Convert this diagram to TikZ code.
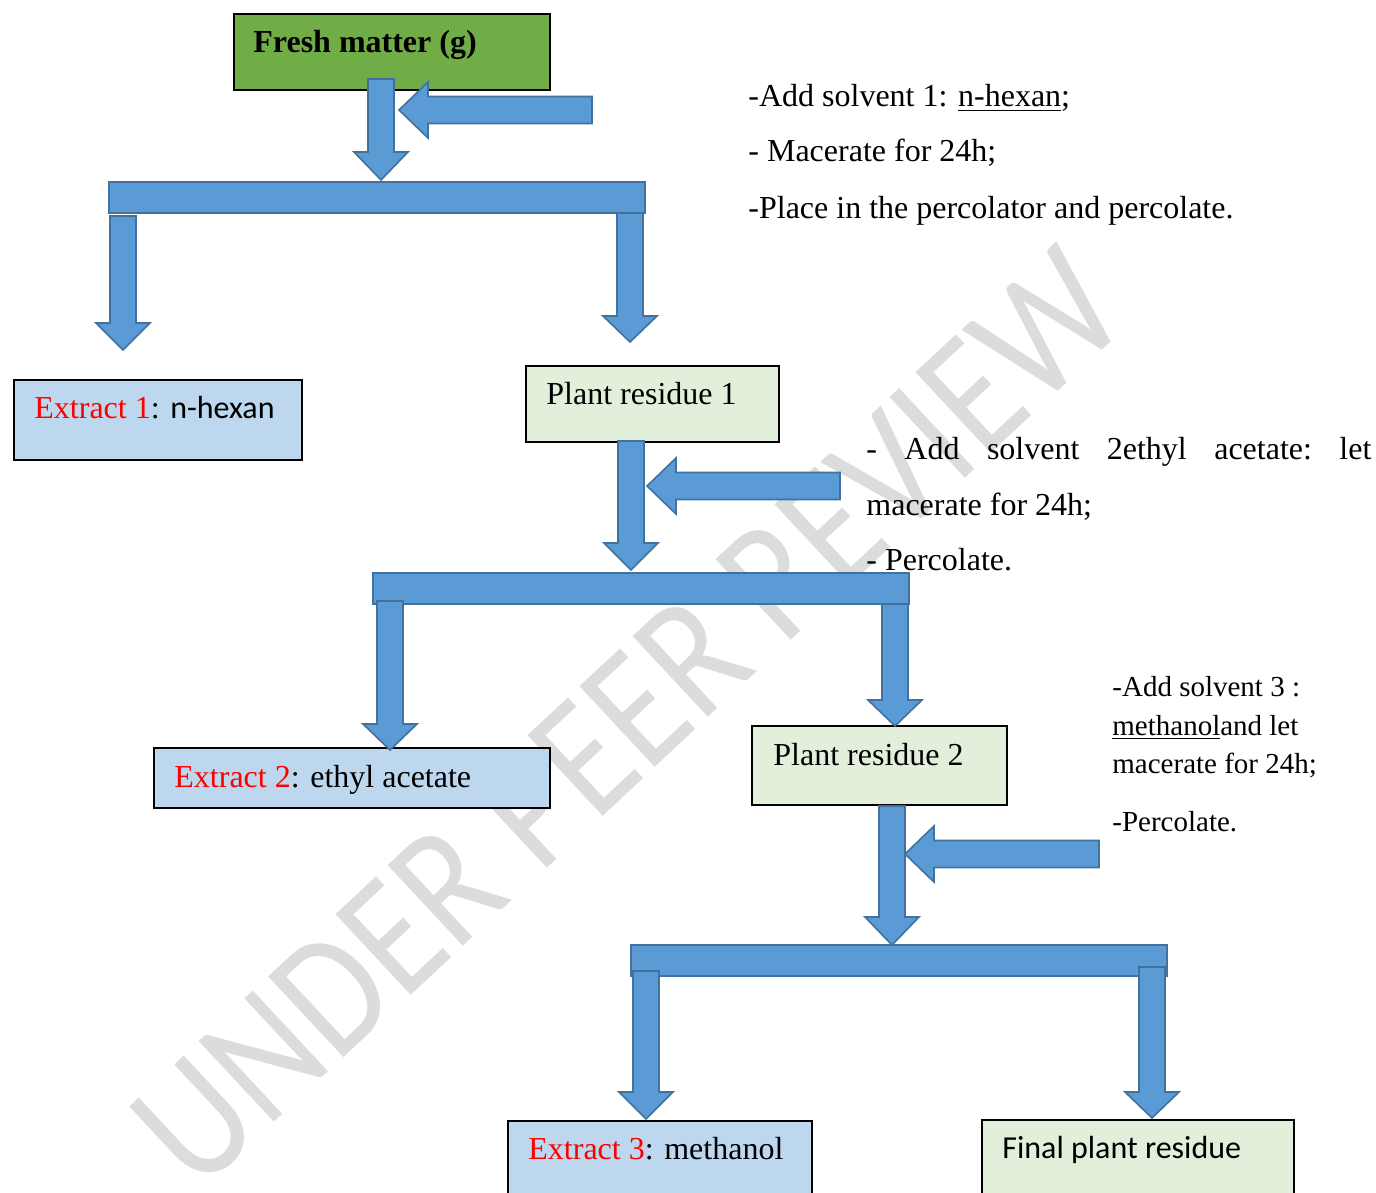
\documentclass[tikz,border=0pt]{standalone}
\usepackage{fontspec}
\setmainfont{Liberation Serif}
\newfontfamily\carlitofont{Carlito}
\definecolor{arrfill}{HTML}{5B9BD5}
\definecolor{arrline}{HTML}{41719C}
\definecolor{freshgreen}{HTML}{70AD47}
\definecolor{extblue}{HTML}{BDD7EE}
\definecolor{resgreen}{HTML}{E2EFDA}
\definecolor{wmark}{HTML}{DCDCDC}
\newcommand\dnarrow[4]{%
  \filldraw[blockarr] ({#1-13},#2) -- ({#1+13},#2) -- ({#1+13},#3) -- ({#1+27},#3) -- (#1,#4) -- ({#1-27},#3) -- ({#1-13},#3) -- cycle;}
\newcommand\lfarrow[4]{%
  \filldraw[blockarr] (#1,{#4-13.5}) -- (#1,{#4+13.5}) -- (#2,{#4+13.5}) -- (#2,{#4+28}) -- (#3,#4) -- (#2,{#4-28}) -- (#2,{#4-13.5}) -- cycle;}
\begin{document}
\begin{tikzpicture}[x=0.5pt,y=-0.5pt,
  blockarr/.style={fill=arrfill,draw=arrline,line width=0.8pt,line join=miter},
  box/.style={draw=black,line width=1pt,anchor=north west,inner sep=0pt},
  txt/.style={anchor=base west,inner sep=0pt,font=\fontsize{16}{19}\selectfont},
  note/.style={anchor=base west,inner sep=0pt,font=\fontsize{16}{19}\selectfont},
  smallnote/.style={anchor=base west,inner sep=0pt,font=\fontsize{14.5}{17}\selectfont}]
\useasboundingbox (0,0) rectangle (1376,1193);
% watermark
\node[rotate=43,text=wmark,inner sep=0pt,font=\carlitofont\fontsize{86}{86}\selectfont] (wm) at (628,718) {\scalebox{0.86}[1]{UNDER PEER REVIEW}};
% boxes
\node[box,fill=freshgreen,minimum width=158pt,minimum height=38pt] (fresh) at (233,13) {};
\node[txt,font=\fontsize{16}{19}\selectfont\bfseries] (freshT) at (253,53) {Fresh matter (g)};
\node[box,fill=extblue,minimum width=144pt,minimum height=40pt] (ext1) at (13,379) {};
\node[txt] (ext1T) at (34,418) {\textcolor{red}{Extract 1}: {\carlitofont n-hexan}};
\node[box,fill=resgreen,minimum width=126.5pt,minimum height=38pt] (res1) at (525,365) {};
\node[txt] (res1T) at (546,404) {Plant residue 1};
\node[box,fill=extblue,minimum width=198pt,minimum height=30pt] (ext2) at (153,747) {};
\node[txt] (ext2T) at (174,787) {\textcolor{red}{Extract 2}: ethyl acetate};
\node[box,fill=resgreen,minimum width=127.5pt,minimum height=39.5pt] (res2) at (751,725) {};
\node[txt] (res2T) at (773,765) {Plant residue 2};
\node[box,fill=extblue,minimum width=152pt,minimum height=45pt] (ext3) at (507,1120) {};
\node[txt] (ext3T) at (528,1159) {\textcolor{red}{Extract 3}: methanol};
\node[box,fill=resgreen,minimum width=156pt,minimum height=45pt] (fin) at (981,1119) {};
\node[txt] (finT) at (1002,1158) {\carlitofont Final plant residue};
% notes
\node[note] (n1a) at (748,107) {-Add solvent 1: \underline{n-hexan};};
\node[note] (n1b) at (748,162) {- Macerate for 24h;};
\node[note] (n1c) at (748,218) {-Place in the percolator and percolate.};
\node[note] (n2a) at (866,459) {\makebox[252.5pt][l]{-\hfill Add\hfill solvent\hfill 2ethyl\hfill acetate:\hfill let}};
\node[note] (n2b) at (866,515) {macerate for 24h;};
\node[note] (n2c) at (866,570) {- Percolate.};
\node[smallnote] (n3a) at (1112,696) {-Add solvent 3 :};
\node[smallnote] (n3b) at (1112,735) {\underline{methanol}and let};
\node[smallnote] (n3c) at (1112,773) {macerate for 24h;};
\node[smallnote] (n3d) at (1112,831) {-Percolate.};
% level 1
\dnarrow{381}{79}{152}{180}
\lfarrow{592}{428}{399}{110}
\filldraw[blockarr] (109,182) rectangle (645,213);
\dnarrow{123}{216}{323}{350}
\dnarrow{630}{213}{316}{342}
% level 2
\dnarrow{631}{441}{543}{570}
\lfarrow{840}{676}{647}{486}
\filldraw[blockarr] (373,573) rectangle (909,604);
\dnarrow{390}{601}{724}{750}
\dnarrow{895}{604}{700}{726}
% level 3
\dnarrow{892}{806}{917}{945}
\lfarrow{1099}{934}{905}{854}
\filldraw[blockarr] (631,945) rectangle (1167,976);
\dnarrow{646}{971}{1092}{1119}
\dnarrow{1152}{967}{1092}{1118}
\end{tikzpicture}
\end{document}
